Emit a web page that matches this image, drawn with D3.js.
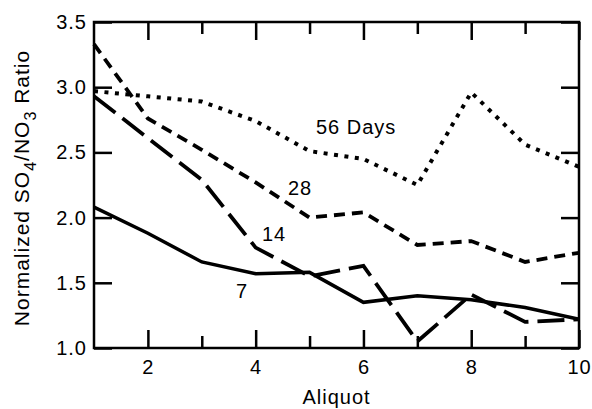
<!DOCTYPE html>
<html>
<head>
<meta charset="utf-8">
<script src="https://cdn.jsdelivr.net/npm/d3@7"></script>
<style>
  body { margin: 0; background: #fff; }
  svg { display: block; font-family: "Liberation Sans", Arial, Helvetica, sans-serif; }
  .axis text { font-size: 20px; letter-spacing: 1px; fill: #000; }
  .axis line { stroke: #000; stroke-width: 2.5; }
  .lbl { font-size: 20px; letter-spacing: 1px; fill: #000; }
</style>
</head>
<body>
<svg width="592" height="409"></svg>
<script>
// aliquot numbers
var aliquot = [1, 2, 3, 4, 5, 6, 7, 8, 9, 10];

// normalized SO4/NO3 ratio per storage time
var days56 = [2.97, 2.93, 2.89, 2.74, 2.51, 2.45, 2.25, 2.96, 2.56, 2.39];
var days28 = [3.33, 2.76, 2.52, 2.27, 2.00, 2.04, 1.79, 1.82, 1.66, 1.73];
var days14 = [2.93, 2.61, 2.29, 1.77, 1.55, 1.63, 1.05, 1.41, 1.20, 1.22];
var days7  = [2.08, 1.88, 1.66, 1.57, 1.58, 1.35, 1.40, 1.37, 1.31, 1.22];

var xMajor = [2, 4, 6, 8, 10];
var xMinor = [3, 5, 7, 9];
var yTicks = [1.0, 1.5, 2.0, 2.5, 3.0, 3.5];

var svg = d3.select("svg");
var margin = {left: 94, right: 13, top: 22, bottom: 61};
var width = 592 - margin.left - margin.right,
    height = 409 - margin.top - margin.bottom;

var x = d3.scaleLinear().domain([1, 10]).range([0, width]);
var y = d3.scaleLinear().domain([1.0, 3.5]).range([height, 0]);

var g = svg.append("g").attr("transform", "translate(" + margin.left + "," + margin.top + ")");

// bottom axis, labelled major ticks and shorter minor ones
var bottom = g.append("g").attr("class", "axis")
  .attr("transform", "translate(0," + height + ")")
  .call(d3.axisBottom(x).tickValues(xMajor).tickSize(-18).tickPadding(12).tickFormat(d3.format("d")));
g.append("g").attr("class", "axis")
  .attr("transform", "translate(0," + height + ")")
  .call(d3.axisBottom(x).tickValues(xMinor).tickSize(-12).tickFormat(""));

// top axis ticks
g.append("g").attr("class", "axis")
  .call(d3.axisTop(x).tickValues(xMajor).tickSize(-18).tickFormat(""));
g.append("g").attr("class", "axis")
  .call(d3.axisTop(x).tickValues(xMinor).tickSize(-12).tickFormat(""));

// left and right axes
g.append("g").attr("class", "axis")
  .call(d3.axisLeft(y).tickValues(yTicks).tickSize(-18).tickPadding(7).tickFormat(d3.format(".1f")));
g.append("g").attr("class", "axis")
  .attr("transform", "translate(" + width + ",0)")
  .call(d3.axisRight(y).tickValues(yTicks).tickSize(-18).tickFormat(""));

g.selectAll(".axis .domain").remove();

g.append("rect")
  .attr("width", width).attr("height", height)
  .attr("fill", "none").attr("stroke", "#000").attr("stroke-width", 2.5);

var series = [
  {vals: days56, dash: "4 6.5", w: 4},
  {vals: days28, dash: "11 7", w: 3.8},
  {vals: days14, dash: "27 9", w: 3.8},
  {vals: days7, dash: null, w: 3.5}
];

var line = d3.line()
  .x(function(d, i) { return x(aliquot[i]); })
  .y(function(d) { return y(d); });

g.selectAll("path.series")
  .data(series)
  .enter().append("path")
  .attr("class", "series")
  .attr("d", function(d) { return line(d.vals); })
  .attr("fill", "none")
  .attr("stroke", "#000")
  .attr("stroke-width", function(d) { return d.w; })
  .attr("stroke-dasharray", function(d) { return d.dash; })
  .attr("stroke-linejoin", "miter");

// series labels
svg.append("text").attr("class", "lbl").attr("x", 316).attr("y", 134).text("56 Days");
svg.append("text").attr("class", "lbl").attr("x", 288).attr("y", 195).text("28");
svg.append("text").attr("class", "lbl").attr("x", 262).attr("y", 241).text("14");
svg.append("text").attr("class", "lbl").attr("x", 236).attr("y", 298).text("7");

// axis titles
svg.append("text").attr("class", "lbl")
  .attr("x", margin.left + width / 2).attr("y", 404)
  .attr("text-anchor", "middle")
  .text("Aliquot");

var yl = svg.append("text").attr("class", "lbl")
  .attr("transform", "translate(29,188) rotate(-90)")
  .attr("text-anchor", "middle")
  .style("font-size", "21px");
yl.append("tspan").text("Normalized SO");
yl.append("tspan").attr("dy", 7).style("font-size", "16px").text("4");
yl.append("tspan").attr("dy", -7).text("/NO");
yl.append("tspan").attr("dy", 7).style("font-size", "16px").text("3");
yl.append("tspan").attr("dy", -7).text(" Ratio");
</script>
</body>
</html>
